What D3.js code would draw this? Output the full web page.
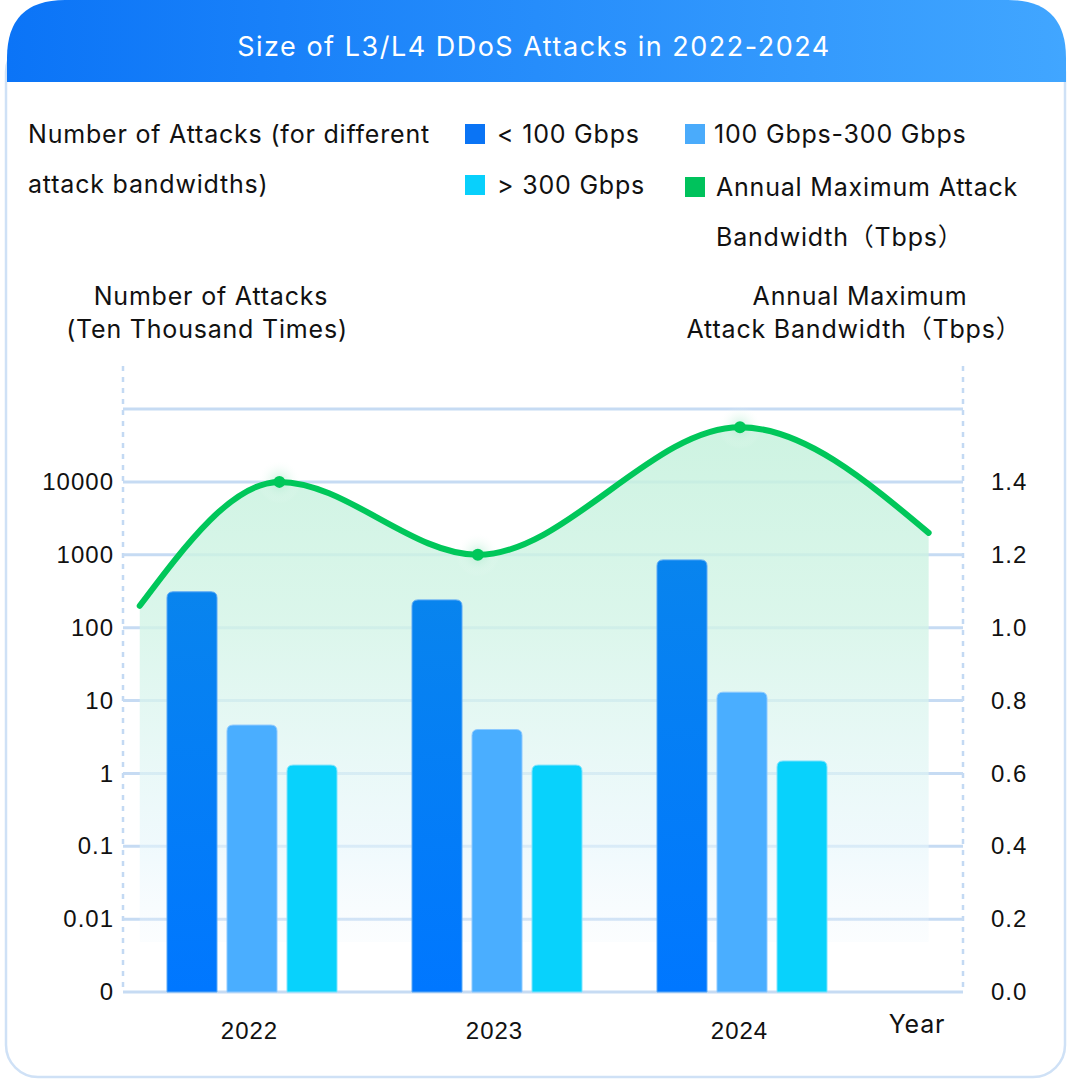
<!DOCTYPE html>
<html><head><meta charset="utf-8">
<script src="https://cdn.jsdelivr.net/npm/d3@7"></script>
<style>
html,body{margin:0;padding:0;background:#fff;}
svg{display:block;font-family:Inter,"Noto Sans","Noto Sans CJK SC",sans-serif;}
</style></head>
<body>
<svg id="chart" width="1070" height="1080"></svg>
<script>
// ---- data ----
const years = ["2022", "2023", "2024"];
const seriesNames = ["< 100 Gbps", "100 Gbps-300 Gbps", "> 300 Gbps"];
const attacksLt100 = [310, 240, 850];
const attacks100to300 = [4.6, 4.0, 13];
const attacksGt300 = [1.3, 1.3, 1.48];
const bandwidthX = [2021.55, 2022.12, 2022.93, 2024.0, 2024.77];
const bandwidthTbps = [1.06, 1.40, 1.20, 1.55, 1.26];
const leftTickValues = [0.001, 0.01, 0.1, 1, 10, 100, 1000, 10000];
const leftTickLabels = ["0", "0.01", "0.1", "1", "10", "100", "1000", "10000"];
const rightTickValues = [0, 0.2, 0.4, 0.6, 0.8, 1.0, 1.2, 1.4];

const svg = d3.select("#chart");
const defs = svg.append("defs");

const hg = defs.append("linearGradient").attr("id","hdr").attr("x1","0").attr("x2","1").attr("y1","0").attr("y2","0");
hg.append("stop").attr("offset","0").attr("stop-color","#0b74f7");
hg.append("stop").attr("offset","1").attr("stop-color","#41a6ff");
const ag = defs.append("linearGradient").attr("id","areaG").attr("gradientUnits","userSpaceOnUse")
  .attr("x1",0).attr("x2",0).attr("y1",420).attr("y2",992);
ag.append("stop").attr("offset","0").attr("stop-color","#c4f1dc").attr("stop-opacity",0.85);
ag.append("stop").attr("offset","0.35").attr("stop-color","#d2f4e6").attr("stop-opacity",0.8);
ag.append("stop").attr("offset","0.75").attr("stop-color","#e6f6fb").attr("stop-opacity",0.6);
ag.append("stop").attr("offset","0.92").attr("stop-color","#eef7fd").attr("stop-opacity",0.2);
ag.append("stop").attr("offset","1").attr("stop-color","#ffffff").attr("stop-opacity",0);
const b1 = defs.append("linearGradient").attr("id","bar0").attr("x1",0).attr("x2",0).attr("y1",0).attr("y2",1);
b1.append("stop").attr("offset","0").attr("stop-color","#0884ee");
b1.append("stop").attr("offset","1").attr("stop-color","#0077ff");
const glow = defs.append("radialGradient").attr("id","glow");
glow.append("stop").attr("offset","0").attr("stop-color","#9fe6c4").attr("stop-opacity",0.6);
glow.append("stop").attr("offset","1").attr("stop-color","#ffffff").attr("stop-opacity",0);

// card
svg.append("rect").attr("x",6).attr("y",40).attr("width",1059).attr("height",1037)
  .attr("rx",32).attr("fill","#fff").attr("stroke","#cfe1f6").attr("stroke-width",2.5);
const hx0=7, hx1=1066, hy1=82, r=58;
svg.append("path").attr("d",`M${hx0},${hy1} L${hx0},${r} Q${hx0},0 ${hx0+r},0 L${hx1-r},0 Q${hx1},0 ${hx1},${r} L${hx1},${hy1} Z`)
  .attr("fill","url(#hdr)");
svg.append("text").attr("x",534).attr("y",56).attr("text-anchor","middle").attr("fill","#fff")
  .attr("font-size",27).attr("letter-spacing",1.5).text("Size of L3/L4 DDoS Attacks in 2022-2024");

const txt = (x,y,s,anchor) => svg.append("text").attr("x",x).attr("y",y).attr("font-size",25)
  .attr("letter-spacing",0.8).attr("fill","#111").attr("text-anchor",anchor||"start").text(s);
txt(28,143,"Number of Attacks (for different");
txt(28,193,"attack bandwidths)");
const legendColors = ["#0a74f5","#4aabfb","#08d0fc","#00c25c"];
const legendItems = [
  {x:465,y:124,c:legendColors[0],t:[seriesNames[0]],tx:497},
  {x:685,y:124,c:legendColors[1],t:[seriesNames[1]],tx:714},
  {x:465,y:175,c:legendColors[2],t:[seriesNames[2]],tx:497},
  {x:685,y:177,c:legendColors[3],t:["Annual Maximum Attack","Bandwidth（Tbps）"],tx:716}
];
legendItems.forEach(d=>{
  svg.append("rect").attr("x",d.x).attr("y",d.y).attr("width",20).attr("height",20).attr("fill",d.c);
  d.t.forEach((s,i)=>txt(d.tx,d.y+19+i*50,s));
});

txt(211,305,"Number of Attacks","middle");
txt(207,338,"(Ten Thousand Times)","middle");
txt(860,305,"Annual Maximum","middle");
txt(854,338,"Attack Bandwidth（Tbps）","middle");

const x0 = 123, x1 = 963, yB = 992, yT = 409;
const yLeft = d3.scaleLog().domain([0.001, 100000]).range([yB, yT]);
const yRight = d3.scaleLinear().domain([0, 1.6]).range([yB, yT]);
const xGroup = d3.scalePoint().domain(years).range([252, 742]);
const xSub = d3.scaleBand().domain(seriesNames).range([-85, 85]).paddingInner(0.167);
const xLine = d3.scaleLinear().domain([2022, 2024]).range([250, 740]);

[x0, x1].forEach(x=>{
  svg.append("line").attr("x1",x).attr("x2",x).attr("y1",366).attr("y2",yB)
    .attr("stroke","#c3d9f3").attr("stroke-width",2.5).attr("stroke-dasharray","5,6");
});

const gridVals = leftTickValues.concat([100000]);
svg.append("g").selectAll("line").data(gridVals).join("line")
  .attr("x1",x0).attr("x2",x1).attr("y1",d=>yLeft(d)).attr("y2",d=>yLeft(d))
  .attr("stroke","#c6dbf3").attr("stroke-width",3);

const pts = bandwidthX.map((v,i)=>[xLine(v), yRight(bandwidthTbps[i])]);
const area = d3.area().x(d=>d[0]).y0(yB-50).y1(d=>d[1]).curve(d3.curveMonotoneX);
svg.append("path").attr("d",area(pts)).attr("fill","url(#areaG)");

const seriesData = [attacksLt100, attacks100to300, attacksGt300];
const barFills = ["url(#bar0)","#4aaeff","#08d2fc"];
const barStrokes = ["#5aa8f5","#8cc9ff","#7fe3fd"];
const bw = xSub.bandwidth();
function barPath(x,y,w,h,rr){
  return `M${x},${y+h} L${x},${y+rr} Q${x},${y} ${x+rr},${y} L${x+w-rr},${y} Q${x+w},${y} ${x+w},${y+rr} L${x+w},${y+h} Z`;
}
years.forEach((yr,gi)=>{
  seriesNames.forEach((s,si)=>{
    const v = seriesData[si][gi];
    const x = xGroup(yr)+xSub(s);
    const y = yLeft(v);
    svg.append("path").attr("d",barPath(x,y,bw,yB-y,6))
      .attr("fill",barFills[si]).attr("stroke",barStrokes[si]).attr("stroke-width",1);
  });
});

const line = d3.line().x(d=>d[0]).y(d=>d[1]).curve(d3.curveMonotoneX);
[1,2,3].forEach(i=>{
  svg.append("circle").attr("cx",pts[i][0]).attr("cy",pts[i][1]).attr("r",22).attr("fill","url(#glow)");
});
svg.append("path").attr("d",line(pts)).attr("fill","none").attr("stroke","#00c75a")
  .attr("stroke-width",6).attr("stroke-linecap","round");
[1,2,3].forEach(i=>{
  svg.append("circle").attr("cx",pts[i][0]).attr("cy",pts[i][1]).attr("r",6).attr("fill","#00c75a");
});

const styleTicks = g => g.selectAll("text").attr("font-size",24).attr("letter-spacing",1)
  .attr("fill","#111").attr("font-family",null);
const leftAxis = d3.axisLeft(yLeft).tickValues(leftTickValues)
  .tickFormat((d,i)=>leftTickLabels[i]).tickSize(0).tickPadding(0);
const gl = svg.append("g").attr("transform",`translate(114,0)`).call(leftAxis);
gl.select(".domain").remove(); styleTicks(gl);

const rightAxis = d3.axisRight(yRight).tickValues(rightTickValues).tickFormat(d3.format(".1f")).tickSize(0).tickPadding(0);
const gr = svg.append("g").attr("transform",`translate(991,0)`).call(rightAxis);
gr.select(".domain").remove(); styleTicks(gr);

const bottomAxis = d3.axisBottom(xGroup).tickSize(0).tickPadding(0);
const gb = svg.append("g").attr("transform",`translate(-3,1022)`).call(bottomAxis);
gb.select(".domain").remove(); styleTicks(gb);
txt(917,1033,"Year","middle");
</script>
</body></html>
